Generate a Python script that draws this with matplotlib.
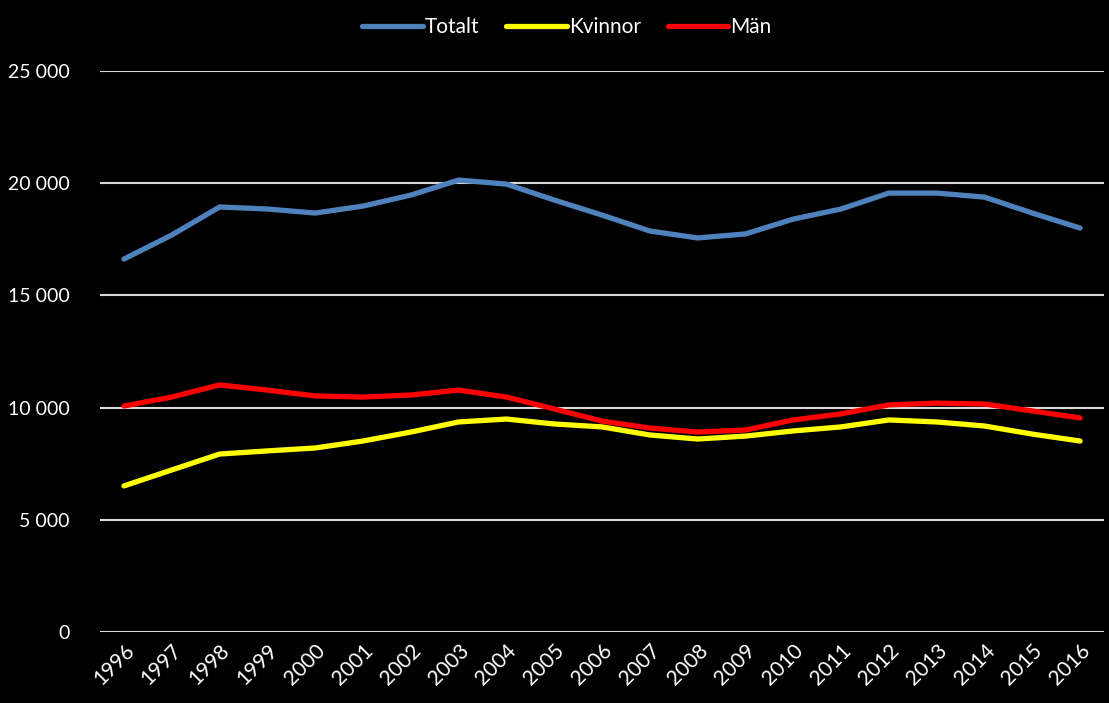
import matplotlib
matplotlib.use("Agg")
import matplotlib.pyplot as plt

years = [str(y) for y in range(1996, 2017)]
totalt = [16620, 17690, 18940, 18850, 18670, 18980, 19470, 20140, 19960, 19250,
          18580, 17870, 17560, 17740, 18400, 18850, 19560, 19560, 19380, 18670, 18000]
kvinnor = [6510, 7220, 7930, 8070, 8200, 8510, 8910, 9360, 9490, 9270,
           9140, 8780, 8600, 8730, 8960, 9140, 9450, 9360, 9180, 8820, 8510]
man = [10070, 10470, 11010, 10780, 10520, 10470, 10560, 10780, 10470, 9940,
       9400, 9090, 8910, 9000, 9450, 9720, 10120, 10200, 10160, 9850, 9540]

plt.rcParams["font.family"] = ["Lato", "DejaVu Sans"]

fig = plt.figure(figsize=(11.09, 7.03), dpi=100, facecolor="black")
ax = fig.add_axes([0.0902, 0.101, 0.9053, 0.798])
ax.set_facecolor("black")

x = list(range(len(years)))
ax.plot(x, totalt, color="#4f81bd", lw=3.8, label="Totalt", solid_capstyle="round")
ax.plot(x, kvinnor, color="#ffff00", lw=3.8, label="Kvinnor", solid_capstyle="round")
ax.plot(x, man, color="#ff0000", lw=3.8, label="Män", solid_capstyle="round")

ax.set_xlim(-0.5, len(years) - 0.5)
ax.set_ylim(0, 25000)
ax.set_yticks(range(0, 25001, 5000))
ax.set_yticklabels([f"{v:,}".replace(",", " ") for v in range(0, 25001, 5000)])
ax.set_xticks(x)
ax.set_xticklabels(years, rotation=45, ha="right", rotation_mode="anchor")
ax.grid(axis="y", color="#d9d9d9", lw=1.5)
ax.set_axisbelow(True)
for s in ax.spines.values():
    s.set_visible(False)
ax.tick_params(colors="white", labelsize=14, length=0)
ax.tick_params(axis="x", labelsize=15, pad=6)
ax.tick_params(axis="y", pad=22)

leg = ax.legend(loc="upper center", bbox_to_anchor=(0.465, 1.13), ncol=3, frameon=False,
                fontsize=15, handlelength=2.9, handletextpad=0.1, columnspacing=1.3)
for t in leg.get_texts():
    t.set_color("white")

fig.savefig("out.png", dpi=100, facecolor="black")
